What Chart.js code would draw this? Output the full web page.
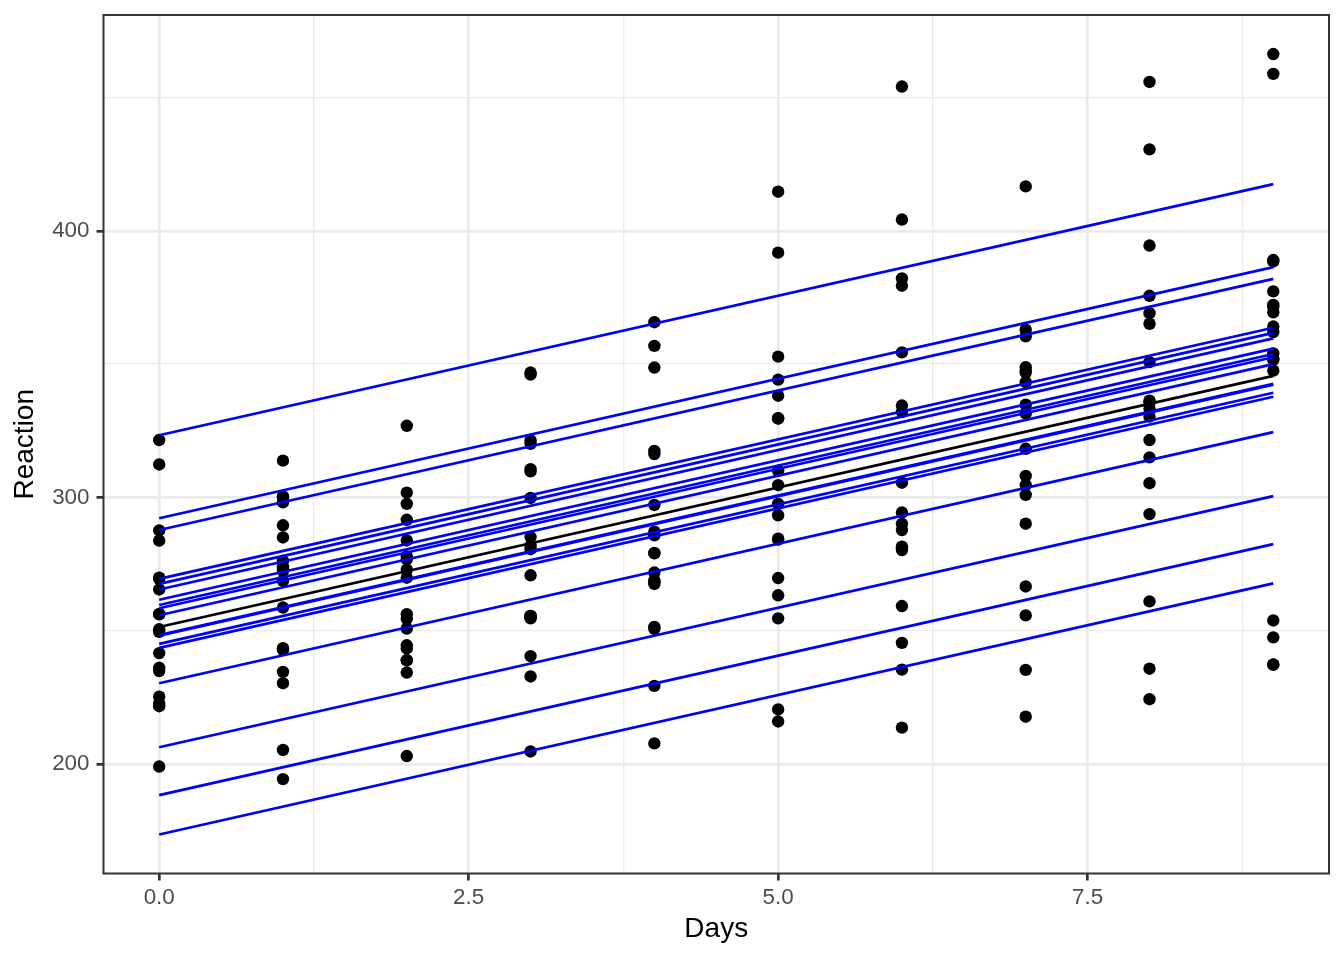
<!DOCTYPE html>
<html>
<head>
<meta charset="utf-8">
<title>Reaction vs Days</title>
<script src="https://cdn.jsdelivr.net/npm/chart.js@4.4.1/dist/chart.umd.min.js"></script>
<style>
    html, body { margin: 0; padding: 0; background: #fff; }
    #wrap { width: 1344px; height: 960px; position: relative; }
</style>
</head>
<body>
<div id="wrap"><canvas id="reaction-chart"></canvas></div>
<script>
// days on the x axis
var days = [0, 1, 2, 3, 4, 5, 6, 7, 8, 9];

var subjects = ["308", "309", "310", "330", "331", "332", "333", "334", "335",
                "337", "349", "350", "351", "352", "369", "370", "371", "372"];

// reaction time per subject, one value per day
var reaction = [
    [249.56, 258.70, 250.80, 321.44, 356.85, 414.69, 382.20, 290.15, 430.59, 466.35],
    [222.73, 205.27, 202.98, 204.71, 207.72, 215.96, 213.63, 217.73, 224.30, 237.31],
    [199.05, 194.33, 234.32, 232.84, 229.31, 220.46, 235.42, 255.75, 261.01, 247.52],
    [321.54, 300.40, 283.86, 285.13, 285.80, 297.59, 280.24, 318.26, 305.35, 354.05],
    [287.61, 285.00, 301.82, 320.12, 316.28, 293.32, 290.08, 334.82, 293.75, 371.58],
    [234.86, 242.81, 272.96, 309.77, 317.46, 310.00, 454.16, 346.83, 330.30, 253.86],
    [283.84, 289.56, 276.77, 299.81, 297.17, 338.17, 332.03, 348.84, 333.36, 362.04],
    [265.47, 276.20, 243.36, 254.67, 279.02, 284.19, 305.52, 331.52, 335.75, 377.30],
    [241.61, 273.95, 254.49, 270.80, 251.45, 254.64, 245.45, 235.31, 235.75, 237.25],
    [312.37, 313.81, 291.61, 346.12, 365.73, 391.84, 404.26, 416.69, 455.86, 458.92],
    [236.10, 230.32, 238.93, 254.92, 250.71, 269.77, 281.56, 308.10, 336.28, 351.65],
    [256.30, 243.45, 256.20, 255.53, 268.92, 329.72, 379.44, 362.92, 394.49, 389.05],
    [250.53, 300.06, 269.89, 280.59, 271.83, 304.63, 287.75, 266.60, 321.54, 347.57],
    [221.68, 298.19, 326.88, 346.86, 348.74, 352.83, 354.43, 360.43, 375.64, 388.54],
    [256.12, 268.70, 244.53, 255.52, 268.21, 263.30, 294.33, 301.00, 315.04, 352.06],
    [225.26, 234.52, 238.90, 240.47, 267.54, 344.19, 281.15, 347.59, 365.16, 372.23],
    [269.88, 272.44, 277.90, 281.79, 279.17, 284.51, 259.27, 304.63, 350.78, 369.47],
    [269.41, 273.47, 297.60, 310.63, 287.17, 329.61, 334.48, 343.22, 369.14, 364.12]
];

// fitted line per subject: value at first day and at last day
var lineFrom = 0;
var lineTo = 9;
var lineStart = [292.19, 173.56, 188.30, 255.81, 261.62, 259.63, 267.56, 248.41, 206.28,
                 323.32, 230.29, 265.47, 243.57, 287.78, 258.41, 245.06, 248.12, 269.45];
var lineEnd   = [386.39, 267.76, 282.50, 350.01, 355.82, 353.83, 361.76, 342.61, 300.48,
                 417.52, 324.49, 359.67, 337.77, 381.98, 352.61, 339.26, 342.32, 363.65];

// overall (fixed effect) line
var fixedStart = 251.41;
var fixedEnd = 345.61;

// axis ticks
var xMajorTicks = [0, 2.5, 5, 7.5];
var xMinorTicks = [1.25, 3.75, 6.25, 8.75];
var yMajorTicks = [200, 300, 400];
var yMinorTicks = [250, 350, 450];

var FONT = "'Liberation Sans', Arial, Helvetica, sans-serif";

function isIn(list, v) {
    for (var i = 0; i < list.length; i++) {
        if (Math.abs(list[i] - v) < 1e-6) return true;
    }
    return false;
}

function createChart() {
    var ctx = document.getElementById("reaction-chart").getContext("2d");

    // all observations as one point cloud
    var points = [];
    for (var s = 0; s < subjects.length; s++) {
        for (var d = 0; d < days.length; d++) {
            points.push({ x: days[d], y: reaction[s][d] });
        }
    }

    var datasets = [{
        type: 'scatter',
        label: 'Reaction',
        data: points,
        backgroundColor: '#000000',
        borderWidth: 0,
        pointRadius: 6.2,
        pointHoverRadius: 6.2,
        order: 3
    }];

    for (var i = 0; i < subjects.length; i++) {
        datasets.push({
            type: 'scatter',
            label: 'Subject ' + subjects[i],
            data: [{ x: lineFrom, y: lineStart[i] }, { x: lineTo, y: lineEnd[i] }],
            showLine: true,
            borderColor: '#0000FF',
            borderWidth: 2.7,
            pointRadius: 0,
            fill: false,
            order: 2
        });
    }

    datasets.push({
        type: 'scatter',
        label: 'Fixed',
        data: [{ x: lineFrom, y: fixedStart }, { x: lineTo, y: fixedEnd }],
        showLine: true,
        borderColor: '#000000',
        borderWidth: 2.7,
        pointRadius: 0,
        fill: false,
        order: 1
    });

    // ggplot-like panel border
    var panelBorder = {
        id: 'panelBorder',
        afterDatasetsDraw: function (chart) {
            var a = chart.chartArea;
            var c = chart.ctx;
            c.save();
            c.strokeStyle = '#333333';
            c.lineWidth = 2;
            c.strokeRect(a.left, a.top, a.right - a.left, a.bottom - a.top);
            c.restore();
        }
    };

    new Chart(ctx, {
        type: 'scatter',
        data: { datasets: datasets },
        plugins: [panelBorder],
        options: {
            responsive: true,
            maintainAspectRatio: false,
            animation: false,
            layout: { padding: { top: 15, right: 15, left: 0, bottom: 0 } },
            plugins: {
                legend: { display: false },
                tooltip: { enabled: false }
            },
            scales: {
                x: {
                    type: 'linear',
                    min: -0.45,
                    max: 9.45,
                    afterFit: function (scale) {
                        scale.height = 86.5;
                        scale.paddingLeft = 0;
                        scale.paddingRight = 0;
                    },
                    afterBuildTicks: function (scale) {
                        scale.ticks = xMajorTicks.concat(xMinorTicks).sort(function (a, b) { return a - b; })
                            .map(function (v) { return { value: v }; });
                    },
                    border: { display: false },
                    grid: {
                        color: '#EBEBEB',
                        lineWidth: function (c) { return isIn(xMajorTicks, c.tick.value) ? 2.7 : 1.35; },
                        tickColor: function (c) { return isIn(xMajorTicks, c.tick.value) ? '#333333' : 'rgba(0,0,0,0)'; },
                        tickWidth: 2.7,
                        tickLength: 7
                    },
                    ticks: {
                        autoSkip: false,
                        maxRotation: 0,
                        padding: 4,
                        color: '#4D4D4D',
                        font: { family: FONT, size: 22.4 },
                        callback: function (v) { return isIn(xMajorTicks, v) ? v.toFixed(1) : ''; }
                    },
                    title: {
                        display: true,
                        text: 'Days',
                        color: '#000000',
                        font: { family: FONT, size: 28 },
                        padding: { top: 0, bottom: 13.5 }
                    }
                },
                y: {
                    type: 'linear',
                    min: 158.92,
                    max: 480.99,
                    afterFit: function (scale) {
                        scale.width = 103.5;
                        scale.paddingTop = 0;
                        scale.paddingBottom = 0;
                    },
                    afterBuildTicks: function (scale) {
                        scale.ticks = yMajorTicks.concat(yMinorTicks).sort(function (a, b) { return a - b; })
                            .map(function (v) { return { value: v }; });
                    },
                    border: { display: false },
                    grid: {
                        color: '#EBEBEB',
                        lineWidth: function (c) { return isIn(yMajorTicks, c.tick.value) ? 2.7 : 1.35; },
                        tickColor: function (c) { return isIn(yMajorTicks, c.tick.value) ? '#333333' : 'rgba(0,0,0,0)'; },
                        tickWidth: 2.7,
                        tickLength: 7
                    },
                    ticks: {
                        autoSkip: false,
                        padding: 7,
                        color: '#4D4D4D',
                        font: { family: FONT, size: 22.4 },
                        callback: function (v) { return isIn(yMajorTicks, v) ? String(v) : ''; }
                    },
                    title: {
                        display: true,
                        text: 'Reaction',
                        color: '#000000',
                        font: { family: FONT, size: 28 },
                        padding: { top: 8.5, bottom: 0 }
                    }
                }
            }
        }
    });
}

createChart();
</script>
</body>
</html>
